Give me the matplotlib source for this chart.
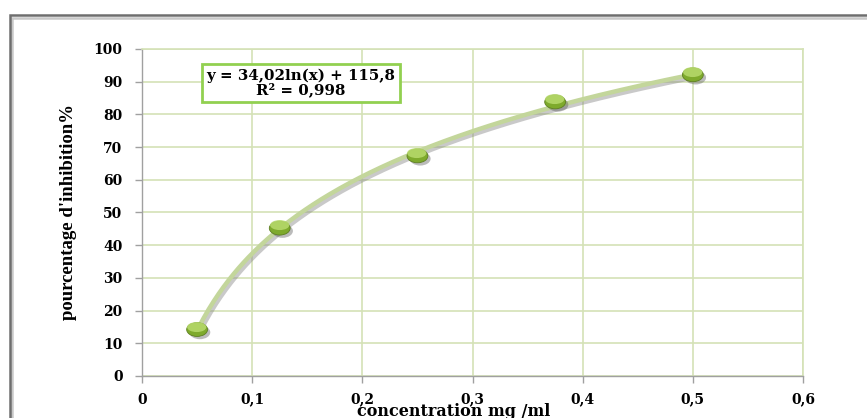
import matplotlib.pyplot as plt
import matplotlib
import matplotlib.patheffects as pe
from matplotlib.patches import Rectangle
from matplotlib.path import Path
import numpy as np

matplotlib.rcParams['font.family'] = 'DejaVu Serif'
matplotlib.rcParams['font.weight'] = 'bold'

# mesures
concentration = [0.05, 0.125, 0.25, 0.375, 0.5]
inhibition = [14.2, 45.2, 67.3, 83.8, 92.1]

# régression logarithmique
coef_a = 34.02
coef_b = 115.8
r2_label = 'R² = 0,998'
eq_label = 'y = 34,02ln(x) + 115,8'

x_ticks = [0, 0.1, 0.2, 0.3, 0.4, 0.5, 0.6]
x_ticklabels = ['0', '0,1', '0,2', '0,3', '0,4', '0,5', '0,6']
y_ticks = [0, 10, 20, 30, 40, 50, 60, 70, 80, 90, 100]

fig = plt.figure(figsize=(8.67, 4.18), dpi=100)
ax = fig.add_axes([0.1638, 0.1005, 0.7624, 0.7823])

# cadre du graphique
frame = Rectangle((9.5 / 867, -0.1), 1.2, 1 - 15.5 / 418 + 0.1,
                  transform=fig.transFigure, fill=False,
                  edgecolor='#6e6e6e', linewidth=1.8, clip_on=False,
                  path_effects=[pe.SimpleLineShadow(offset=(1.5, -1.5), shadow_color='#bbbbbb', alpha=0.8),
                                pe.Normal()])
fig.patches.append(frame)

grid_col = '#D4E2B6'
ax.set_xlim(0, 0.6)
ax.set_ylim(0, 100)
ax.set_xticks(x_ticks)
ax.set_xticklabels(x_ticklabels)
ax.set_yticks(y_ticks)
ax.grid(True, color=grid_col, linewidth=1.2)
ax.set_axisbelow(True)
for s in ['top', 'right']:
    ax.spines[s].set_color(grid_col)
    ax.spines[s].set_linewidth(1.2)
for s in ['left', 'bottom']:
    ax.spines[s].set_color('#a0a0a0')
    ax.spines[s].set_linewidth(1.0)
ax.tick_params(axis='both', colors='#a0a0a0', length=5, width=1.0,
               labelcolor='black', labelsize=10)
ax.tick_params(axis='x', pad=7)
ax.tick_params(axis='y', pad=9)
for lab in ax.get_xticklabels() + ax.get_yticklabels():
    lab.set_fontweight('bold')

# courbe de tendance
xf = np.linspace(min(concentration), max(concentration), 300)
yf = coef_a * np.log(xf) + coef_b
ax.plot(xf, yf, color='#C3D69B', linewidth=3.2, solid_capstyle='round',
        path_effects=[pe.SimpleLineShadow(offset=(1.5, -2), shadow_color='#888888', alpha=0.45),
                      pe.Normal()], zorder=3)

# marqueur ellipse (plus large que haut) avec reflet clair en haut
circ = Path.unit_circle()
ellipse = Path(circ.vertices * np.array([1.0, 0.66]), circ.codes)
reflet = Path(circ.vertices * np.array([0.62, 0.32]) + np.array([-0.05, 0.22]), circ.codes)

ax.plot(concentration, inhibition, linestyle='none', marker=ellipse, markersize=15,
        markerfacecolor='#7EAA2C', markeredgecolor='#5E7F22', markeredgewidth=0.6,
        path_effects=[pe.SimplePatchShadow(offset=(2, -2), shadow_rgbFace='#555555', alpha=0.4),
                      pe.Normal()], zorder=4)
ax.plot(concentration, inhibition, linestyle='none', marker=reflet, markersize=15,
        markerfacecolor='#B5D86A', markeredgecolor='none', alpha=0.9, zorder=5)

ax.text(0.2405, 0.896, eq_label + '\n' + r2_label, transform=ax.transAxes,
        ha='center', va='center', fontsize=10.8, fontweight='bold', linespacing=1.0,
        bbox=dict(boxstyle='square,pad=0.3', facecolor='white',
                  edgecolor='#92D050', linewidth=2), zorder=6)

ax.set_xlabel('concentration mg /ml', fontsize=11.5, fontweight='bold', va='top')
ax.xaxis.set_label_coords(0.472, -0.083)
ax.set_ylabel("pourcentage d'inhibition%", fontsize=13.5, fontweight='bold',
              family='Liberation Serif', labelpad=12)

plt.savefig('out.png', dpi=100, facecolor='white')
plt.close()
